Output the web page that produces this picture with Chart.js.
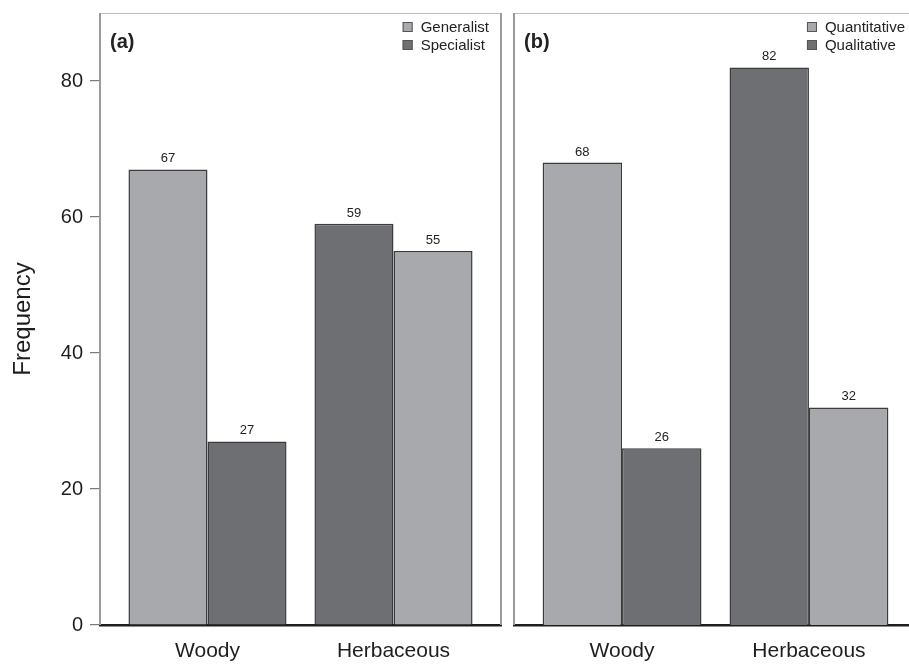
<!DOCTYPE html>
<html>
<head>
<meta charset="utf-8">
<script src="https://cdn.jsdelivr.net/npm/chart.js@4.4.0/dist/chart.umd.min.js"></script>
<style>
  html, body { margin: 0; padding: 0; background: #fff; overflow: hidden; }
  body { width: 909px; height: 664px; position: relative; }
  .panel { position: absolute; top: 0; }
  #panel-a { left: 0; width: 509px; height: 664px; }
  #panel-b { left: 506px; width: 420px; height: 664px; }
</style>
</head>
<body>
<div class="panel" id="panel-a"><canvas id="chart-a"></canvas></div>
<div class="panel" id="panel-b"><canvas id="chart-b"></canvas></div>
<script>
const categories = ['Woody', 'Herbaceous'];

// panel (a)
const generalist = [67, 55];
const specialist = [27, 59];
// panel (b)
const quantitative = [68, 32];
const qualitative = [26, 82];

// in the Herbaceous pair the darker bar sits on the left
const darkFirst = [false, true];

const yTicks = [0, 20, 40, 60, 80];
const yMax = 90;

const LIGHT = '#a8a9ac';
const DARK = '#6e6f73';
const EDGE = '#3c3c3c';
const FONT = '"Liberation Sans", Arial, sans-serif';

function buildDatasets(lightVals, darkVals) {
    const left = categories.map((c, i) => darkFirst[i] ? darkVals[i] : lightVals[i]);
    const right = categories.map((c, i) => darkFirst[i] ? lightVals[i] : darkVals[i]);
    return [
        {
            data: left,
            backgroundColor: darkFirst.map(d => d ? DARK : LIGHT),
            borderColor: EDGE,
            borderWidth: 1.5
        },
        {
            data: right,
            backgroundColor: darkFirst.map(d => d ? LIGHT : DARK),
            borderColor: EDGE,
            borderWidth: 1.5
        }
    ];
}

const panelDecor = {
    id: 'panelDecor',
    afterDraw(chart, args, opts) {
        const { ctx, chartArea: a } = chart;
        ctx.save();
        // frame
        ctx.lineWidth = 1;
        ctx.strokeStyle = '#bdbdbd';
        ctx.beginPath();
        ctx.moveTo(a.left, a.top + 0.5);
        ctx.lineTo(a.right + 1, a.top + 0.5);
        ctx.stroke();
        ctx.lineWidth = 2;
        ctx.strokeStyle = '#9a9a9a';
        ctx.beginPath();
        ctx.moveTo(a.left, a.top);
        ctx.lineTo(a.left, a.bottom);
        ctx.moveTo(a.right, a.top);
        ctx.lineTo(a.right, a.bottom);
        ctx.stroke();

        // value labels above bars
        ctx.fillStyle = '#222';
        ctx.font = '13px ' + FONT;
        ctx.textAlign = 'center';
        ctx.textBaseline = 'bottom';
        chart.data.datasets.forEach((ds, di) => {
            chart.getDatasetMeta(di).data.forEach((bar, i) => {
                ctx.fillText(String(ds.data[i]), bar.x, bar.y - 4);
            });
        });

        // panel letter
        ctx.font = 'bold 20px ' + FONT;
        ctx.textAlign = 'left';
        ctx.textBaseline = 'middle';
        ctx.fillText(opts.letter, a.left + 10, a.top + 29);

        // legend
        ctx.font = '15px ' + FONT;
        const w = Math.max(...opts.names.map(n => ctx.measureText(n).width));
        const x0 = a.right - 12 - w - 18;
        opts.names.forEach((name, i) => {
            const cy = a.top + 14 + i * 18;
            ctx.fillStyle = i === 0 ? LIGHT : DARK;
            ctx.fillRect(x0, cy - 5, 10, 10);
            ctx.lineWidth = 1;
            ctx.strokeStyle = '#555';
            ctx.strokeRect(x0 + 0.5, cy - 4.5, 9, 9);
            ctx.fillStyle = '#222';
            ctx.fillText(name, x0 + 18, cy + 1);
        });
        ctx.restore();
    }
};

function makeOptions(showY, letter, names, padLeft, padRight) {
    return {
        responsive: true,
        maintainAspectRatio: false,
        animation: false,
        layout: { padding: { top: 13, left: padLeft, right: padRight, bottom: 0 } },
        categoryPercentage: 0.85,
        barPercentage: 1,
        plugins: {
            legend: { display: false },
            tooltip: { enabled: false },
            panelDecor: { letter, names }
        },
        scales: {
            x: {
                type: 'category',
                offset: true,
                afterBuildTicks: scale => {
                    // small extra margin so bar pairs sit as in the figure
                    scale._startValue -= 0.078;
                    scale._valueRange += 0.156;
                },
                afterFit: scale => {
                    scale.height = 39;
                    scale.paddingLeft = 0;
                    scale.paddingRight = 0;
                },
                grid: { drawOnChartArea: false, drawTicks: false },
                border: { color: '#1e1e1e', width: 2.5 },
                ticks: { color: '#1e1e1e', font: { family: FONT, size: 21 }, padding: 14 }
            },
            y: {
                display: showY,
                min: 0,
                max: yMax,
                afterFit: scale => {
                    if (showY) scale.width = 100;
                    scale.paddingTop = 0;
                    scale.paddingBottom = 0;
                },
                afterBuildTicks: scale => { scale.ticks = yTicks.map(v => ({ value: v })); },
                grid: { drawOnChartArea: false, tickLength: 10, tickColor: '#777', lineWidth: 1.2 },
                border: { display: false },
                ticks: { color: '#1e1e1e', font: { family: FONT, size: 20 }, padding: 7 },
                title: {
                    display: true,
                    text: 'Frequency',
                    color: '#1e1e1e',
                    font: { family: FONT, size: 24 },
                    padding: { top: 9, bottom: 8 }
                }
            }
        }
    };
}

new Chart(document.getElementById('chart-a'), {
    type: 'bar',
    data: { labels: categories, datasets: buildDatasets(generalist, specialist) },
    options: makeOptions(true, '(a)', ['Generalist', 'Specialist'], 0, 8),
    plugins: [panelDecor]
});

new Chart(document.getElementById('chart-b'), {
    type: 'bar',
    data: { labels: categories, datasets: buildDatasets(quantitative, qualitative) },
    options: makeOptions(false, '(b)', ['Quantitative', 'Qualitative'], 8, 9),
    plugins: [panelDecor]
});
</script>
</body>
</html>
